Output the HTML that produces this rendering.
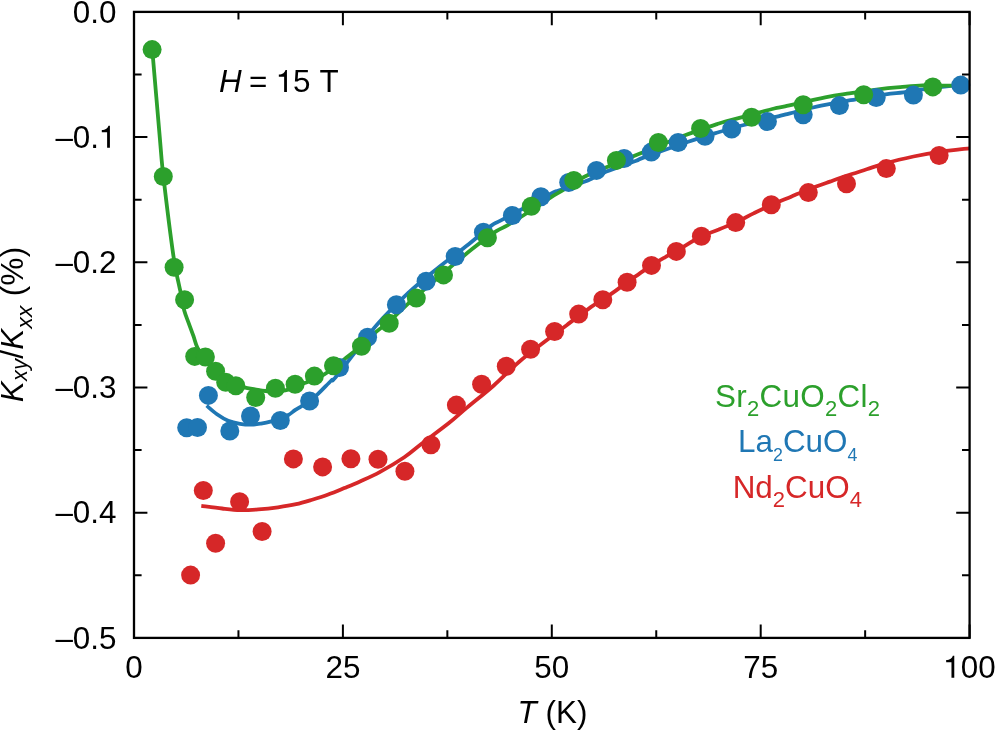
<!DOCTYPE html>
<html><head><meta charset="utf-8"><title>Kxy/Kxx vs T</title>
<style>
html,body{margin:0;padding:0;background:#fff;}
body{width:995px;height:730px;overflow:hidden;}
svg{display:block;will-change:transform;font-family:"Liberation Sans",sans-serif;}
</style></head><body>
<svg width="995" height="730" viewBox="0 0 995 730">
<path d="M201.30 505.80 C204.77 506.25 215.62 507.78 222.10 508.50 C228.58 509.22 234.17 509.95 240.20 510.10 C246.23 510.25 252.00 509.87 258.30 509.40 C264.60 508.93 271.70 508.17 278.00 507.30 C284.30 506.43 290.40 505.47 296.10 504.20 C301.80 502.93 306.85 501.32 312.20 499.70 C317.55 498.08 322.85 496.43 328.20 494.50 C333.55 492.57 339.00 490.27 344.30 488.10 C349.60 485.93 354.10 484.15 360.00 481.50 C365.90 478.85 372.32 476.23 379.70 472.20 C387.08 468.17 397.32 462.03 404.30 457.30 C411.28 452.57 414.17 449.50 421.60 443.80 C429.03 438.10 441.38 429.08 448.90 423.10 C456.42 417.12 459.27 414.13 466.70 407.90 C474.13 401.67 484.80 393.35 493.50 385.70 C502.20 378.05 510.50 369.23 518.90 362.00 C527.30 354.77 535.88 348.48 543.90 342.30 C551.92 336.12 559.18 330.77 567.00 324.90 C574.82 319.03 584.85 311.32 590.80 307.10 C596.75 302.88 598.70 302.22 602.70 299.60 C606.70 296.98 610.73 294.30 614.80 291.40 C618.87 288.50 622.98 285.17 627.10 282.20 C631.22 279.23 635.43 276.42 639.50 273.60 C643.57 270.78 647.40 267.93 651.50 265.30 C655.60 262.67 659.95 260.18 664.10 257.80 C668.25 255.42 670.18 254.58 676.40 251.00 C682.62 247.42 694.43 239.83 701.40 236.30 C708.37 232.77 712.50 232.12 718.20 229.80 C723.90 227.48 729.70 225.13 735.60 222.40 C741.50 219.67 747.65 216.30 753.60 213.40 C759.55 210.50 765.13 207.75 771.30 205.00 C777.47 202.25 784.43 199.48 790.60 196.90 C796.77 194.32 801.73 192.05 808.30 189.50 C814.87 186.95 823.63 183.88 830.00 181.60 C836.37 179.32 840.38 177.85 846.50 175.80 C852.62 173.75 860.08 171.43 866.70 169.30 C873.32 167.17 878.40 165.13 886.20 163.00 C894.00 160.87 904.67 158.37 913.50 156.50 C922.33 154.63 929.85 153.17 939.20 151.80 C948.55 150.43 964.53 148.88 969.60 148.30" fill="none" stroke="#d62728" stroke-width="3.8" stroke-linejoin="round"/>
<path d="M206.60 405.60 C208.33 407.03 213.40 411.68 217.00 414.20 C220.60 416.72 224.37 419.10 228.20 420.70 C232.03 422.30 236.15 423.13 240.00 423.80 C243.85 424.47 247.80 424.73 251.30 424.70 C254.80 424.67 257.65 424.15 261.00 423.60 C264.35 423.05 268.23 422.23 271.40 421.40 C274.57 420.57 277.17 419.67 280.00 418.60 C282.83 417.53 285.90 416.40 288.40 415.00 C290.90 413.60 292.88 411.62 295.00 410.20 C297.12 408.78 298.67 408.10 301.10 406.50 C303.53 404.90 306.87 402.62 309.60 400.60 C312.33 398.58 313.88 397.75 317.50 394.40 C321.12 391.05 328.08 383.58 331.30 380.50 C334.52 377.42 329.23 385.13 336.80 375.90 C344.37 366.67 364.70 339.00 376.70 325.10 C388.70 311.20 398.75 301.90 408.80 292.50 C418.85 283.10 426.97 276.78 437.00 268.70 C447.03 260.62 460.00 251.13 469.00 244.00 C478.00 236.87 485.52 229.92 491.00 225.90 C496.48 221.88 491.92 225.25 501.90 219.90 C511.88 214.55 541.80 198.55 550.90 193.80 C560.00 189.05 551.13 193.35 556.50 191.40 C561.87 189.45 577.33 184.18 583.10 182.10 C588.87 180.02 587.20 180.65 591.10 178.90 C595.00 177.15 598.97 174.63 606.50 171.60 C614.03 168.57 630.27 162.98 636.30 160.70 C642.33 158.42 634.05 161.05 642.70 157.90 C651.35 154.75 675.72 146.03 688.20 141.80 C700.68 137.57 708.33 135.30 717.60 132.50 C726.87 129.70 733.28 127.80 743.80 125.00 C754.32 122.20 773.00 117.65 780.70 115.70 C788.40 113.75 783.25 114.97 790.00 113.30 C796.75 111.63 810.25 108.03 821.20 105.70 C832.15 103.37 844.95 101.20 855.70 99.30 C866.45 97.40 877.75 95.47 885.70 94.30 C893.65 93.13 897.23 93.13 903.40 92.30 C909.57 91.47 914.43 90.40 922.70 89.30 C930.97 88.20 945.18 86.45 953.00 85.70 C960.82 84.95 966.83 84.95 969.60 84.80" fill="none" stroke="#1f77b4" stroke-width="3.8" stroke-linejoin="round"/>
<path d="M152.30 49.80 C153.58 64.83 158.15 118.88 160.00 140.00 C161.85 161.12 161.17 157.20 163.40 176.50 C165.63 195.80 170.85 237.95 173.40 255.80 C175.95 273.65 177.22 276.32 178.70 283.60 C180.18 290.88 181.37 294.97 182.30 299.50 C183.23 304.03 183.23 306.87 184.30 310.80 C185.37 314.73 187.17 318.87 188.70 323.10 C190.23 327.33 192.05 332.12 193.50 336.20 C194.95 340.28 195.48 343.88 197.40 347.60 C199.32 351.32 202.07 354.80 205.00 358.50 C207.93 362.20 211.50 366.38 215.00 369.80 C218.50 373.22 222.50 376.53 226.00 379.00 C229.50 381.47 232.95 383.22 236.00 384.60 C239.05 385.98 241.13 386.52 244.30 387.30 C247.47 388.08 251.52 388.68 255.00 389.30 C258.48 389.92 261.78 390.68 265.20 391.00 C268.62 391.32 272.15 391.30 275.50 391.20 C278.85 391.10 282.13 391.02 285.30 390.40 C288.47 389.78 291.28 388.72 294.50 387.50 C297.72 386.28 301.30 384.48 304.60 383.10 C307.90 381.72 311.02 380.67 314.30 379.20 C317.58 377.73 321.10 376.17 324.30 374.30 C327.50 372.43 329.48 371.05 333.50 368.00 C337.52 364.95 343.77 359.70 348.40 356.00 C353.03 352.30 356.68 349.82 361.30 345.80 C365.92 341.78 371.47 335.90 376.10 331.90 C380.73 327.90 384.78 325.57 389.10 321.80 C393.42 318.03 397.52 313.50 402.00 309.30 C406.48 305.10 409.13 302.62 416.00 296.60 C422.87 290.58 433.95 281.03 443.20 273.20 C452.45 265.37 462.65 256.60 471.50 249.60 C480.35 242.60 490.32 235.23 496.30 231.20 C502.28 227.17 501.62 228.85 507.40 225.40 C513.18 221.95 523.88 215.10 531.00 210.50 C538.12 205.90 544.63 201.27 550.10 197.80 C555.57 194.33 558.15 193.17 563.80 189.70 C569.45 186.23 576.68 180.82 584.00 177.00 C591.32 173.18 598.98 170.45 607.70 166.80 C616.42 163.15 627.58 158.65 636.30 155.10 C645.02 151.55 651.88 148.80 660.00 145.50 C668.12 142.20 675.47 138.87 685.00 135.30 C694.53 131.73 710.35 126.42 717.20 124.10 C724.05 121.78 720.40 122.98 726.10 121.40 C731.80 119.82 743.37 116.75 751.40 114.60 C759.43 112.45 768.70 109.88 774.30 108.50 C779.90 107.12 776.52 108.17 785.00 106.30 C793.48 104.43 814.48 99.47 825.20 97.30 C835.92 95.13 840.15 94.67 849.30 93.30 C858.45 91.93 871.62 90.13 880.10 89.10 C888.58 88.07 893.10 87.73 900.20 87.10 C907.30 86.47 915.23 85.55 922.70 85.30 C930.17 85.05 937.18 85.53 945.00 85.60 C952.82 85.67 965.50 85.68 969.60 85.70" fill="none" stroke="#2ca02c" stroke-width="3.8" stroke-linejoin="round"/>
<circle cx="190.6" cy="575.1" r="9.5" fill="#d62728"/>
<circle cx="203.3" cy="490.5" r="9.5" fill="#d62728"/>
<circle cx="215.6" cy="543.2" r="9.5" fill="#d62728"/>
<circle cx="239.6" cy="501.7" r="9.5" fill="#d62728"/>
<circle cx="262.1" cy="531.5" r="9.5" fill="#d62728"/>
<circle cx="293.4" cy="458.9" r="9.5" fill="#d62728"/>
<circle cx="322.6" cy="466.9" r="9.5" fill="#d62728"/>
<circle cx="350.9" cy="458.8" r="9.5" fill="#d62728"/>
<circle cx="378.0" cy="459.2" r="9.5" fill="#d62728"/>
<circle cx="404.9" cy="471.3" r="9.5" fill="#d62728"/>
<circle cx="430.9" cy="444.7" r="9.5" fill="#d62728"/>
<circle cx="456.4" cy="405.1" r="9.5" fill="#d62728"/>
<circle cx="481.6" cy="384.2" r="9.5" fill="#d62728"/>
<circle cx="506.3" cy="366.3" r="9.5" fill="#d62728"/>
<circle cx="530.6" cy="349.2" r="9.5" fill="#d62728"/>
<circle cx="554.6" cy="331.5" r="9.5" fill="#d62728"/>
<circle cx="578.7" cy="314.1" r="9.5" fill="#d62728"/>
<circle cx="602.8" cy="299.7" r="9.5" fill="#d62728"/>
<circle cx="627.1" cy="282.3" r="9.5" fill="#d62728"/>
<circle cx="651.5" cy="265.4" r="9.5" fill="#d62728"/>
<circle cx="676.3" cy="251.4" r="9.5" fill="#d62728"/>
<circle cx="701.4" cy="236.3" r="9.5" fill="#d62728"/>
<circle cx="735.7" cy="222.6" r="9.5" fill="#d62728"/>
<circle cx="771.3" cy="204.7" r="9.5" fill="#d62728"/>
<circle cx="808.3" cy="192.6" r="9.5" fill="#d62728"/>
<circle cx="846.5" cy="183.7" r="9.5" fill="#d62728"/>
<circle cx="886.3" cy="168.6" r="9.5" fill="#d62728"/>
<circle cx="939.1" cy="155.5" r="9.5" fill="#d62728"/>
<circle cx="186.7" cy="427.7" r="9.5" fill="#1f77b4"/>
<circle cx="197.5" cy="427.5" r="9.5" fill="#1f77b4"/>
<circle cx="208.4" cy="395.4" r="9.5" fill="#1f77b4"/>
<circle cx="229.8" cy="431.0" r="9.5" fill="#1f77b4"/>
<circle cx="250.5" cy="416.0" r="9.5" fill="#1f77b4"/>
<circle cx="280.3" cy="420.5" r="9.5" fill="#1f77b4"/>
<circle cx="309.6" cy="401.0" r="9.5" fill="#1f77b4"/>
<circle cx="339.5" cy="367.5" r="9.5" fill="#1f77b4"/>
<circle cx="367.6" cy="337.2" r="9.5" fill="#1f77b4"/>
<circle cx="396.4" cy="304.7" r="9.5" fill="#1f77b4"/>
<circle cx="426.1" cy="281.3" r="9.5" fill="#1f77b4"/>
<circle cx="455.2" cy="256.5" r="9.5" fill="#1f77b4"/>
<circle cx="483.4" cy="232.3" r="9.5" fill="#1f77b4"/>
<circle cx="512.4" cy="215.5" r="9.5" fill="#1f77b4"/>
<circle cx="540.9" cy="196.7" r="9.5" fill="#1f77b4"/>
<circle cx="568.7" cy="182.5" r="9.5" fill="#1f77b4"/>
<circle cx="596.5" cy="170.4" r="9.5" fill="#1f77b4"/>
<circle cx="624.1" cy="158.5" r="9.5" fill="#1f77b4"/>
<circle cx="651.3" cy="152.1" r="9.5" fill="#1f77b4"/>
<circle cx="678.1" cy="142.5" r="9.5" fill="#1f77b4"/>
<circle cx="705.0" cy="136.2" r="9.5" fill="#1f77b4"/>
<circle cx="731.7" cy="129.1" r="9.5" fill="#1f77b4"/>
<circle cx="767.4" cy="121.6" r="9.5" fill="#1f77b4"/>
<circle cx="803.2" cy="114.8" r="9.5" fill="#1f77b4"/>
<circle cx="839.4" cy="105.6" r="9.5" fill="#1f77b4"/>
<circle cx="876.2" cy="97.5" r="9.5" fill="#1f77b4"/>
<circle cx="913.4" cy="95.1" r="9.5" fill="#1f77b4"/>
<circle cx="960.8" cy="85.1" r="9.5" fill="#1f77b4"/>
<circle cx="152.1" cy="49.6" r="9.5" fill="#2ca02c"/>
<circle cx="163.3" cy="176.5" r="9.5" fill="#2ca02c"/>
<circle cx="174.1" cy="267.2" r="9.5" fill="#2ca02c"/>
<circle cx="184.6" cy="299.8" r="9.5" fill="#2ca02c"/>
<circle cx="194.7" cy="356.4" r="9.5" fill="#2ca02c"/>
<circle cx="205.4" cy="357.0" r="9.5" fill="#2ca02c"/>
<circle cx="215.6" cy="371.2" r="9.5" fill="#2ca02c"/>
<circle cx="225.7" cy="382.3" r="9.5" fill="#2ca02c"/>
<circle cx="235.8" cy="385.8" r="9.5" fill="#2ca02c"/>
<circle cx="255.7" cy="397.5" r="9.5" fill="#2ca02c"/>
<circle cx="275.4" cy="388.2" r="9.5" fill="#2ca02c"/>
<circle cx="295.1" cy="384.2" r="9.5" fill="#2ca02c"/>
<circle cx="314.4" cy="376.1" r="9.5" fill="#2ca02c"/>
<circle cx="333.5" cy="365.7" r="9.5" fill="#2ca02c"/>
<circle cx="361.5" cy="346.2" r="9.5" fill="#2ca02c"/>
<circle cx="389.2" cy="323.2" r="9.5" fill="#2ca02c"/>
<circle cx="416.3" cy="298.1" r="9.5" fill="#2ca02c"/>
<circle cx="443.5" cy="274.9" r="9.5" fill="#2ca02c"/>
<circle cx="487.4" cy="237.7" r="9.5" fill="#2ca02c"/>
<circle cx="531.3" cy="206.3" r="9.5" fill="#2ca02c"/>
<circle cx="573.8" cy="180.4" r="9.5" fill="#2ca02c"/>
<circle cx="616.4" cy="160.4" r="9.5" fill="#2ca02c"/>
<circle cx="658.4" cy="142.5" r="9.5" fill="#2ca02c"/>
<circle cx="700.6" cy="128.5" r="9.5" fill="#2ca02c"/>
<circle cx="751.6" cy="117.2" r="9.5" fill="#2ca02c"/>
<circle cx="803.2" cy="104.8" r="9.5" fill="#2ca02c"/>
<circle cx="863.7" cy="94.7" r="9.5" fill="#2ca02c"/>
<circle cx="932.8" cy="86.9" r="9.5" fill="#2ca02c"/>
<path d="M134.00 637.90V624.50 M134.00 11.90V25.30 M238.45 637.90V630.30 M238.45 11.90V19.50 M342.90 637.90V624.50 M342.90 11.90V25.30 M447.35 637.90V630.30 M447.35 11.90V19.50 M551.80 637.90V624.50 M551.80 11.90V25.30 M656.25 637.90V630.30 M656.25 11.90V19.50 M760.70 637.90V624.50 M760.70 11.90V25.30 M865.15 637.90V630.30 M865.15 11.90V19.50 M969.60 637.90V624.50 M969.60 11.90V25.30 M134.00 11.90H147.40 M969.60 11.90H956.20 M134.00 74.50H141.60 M969.60 74.50H962.00 M134.00 137.10H147.40 M969.60 137.10H956.20 M134.00 199.70H141.60 M969.60 199.70H962.00 M134.00 262.30H147.40 M969.60 262.30H956.20 M134.00 324.90H141.60 M969.60 324.90H962.00 M134.00 387.50H147.40 M969.60 387.50H956.20 M134.00 450.10H141.60 M969.60 450.10H962.00 M134.00 512.70H147.40 M969.60 512.70H956.20 M134.00 575.30H141.60 M969.60 575.30H962.00 M134.00 637.90H147.40 M969.60 637.90H956.20" stroke="#000" stroke-width="2.0" fill="none"/>
<rect x="134.00" y="11.90" width="835.60" height="626.00" fill="none" stroke="#000" stroke-width="2.3"/>
<g font-size="31.4"><text x="72.85" y="22.50">0.0</text>
<text x="55.40" y="147.70">–0.</text><path transform="translate(99.04,147.70) scale(0.03140,-0.03140)" d="M257,0 L346,0 L346,702 L302,702 C288,662 266,628 232,603 C194,578 142,566 88,563 L88,492 L257,492 Z" fill="#000"/>
<text x="55.40" y="272.90">–0.2</text>
<text x="55.40" y="398.10">–0.3</text>
<text x="55.40" y="523.30">–0.4</text>
<text x="55.40" y="648.50">–0.5</text></g>
<g font-size="31.4"><text x="125.27" y="677.70">0</text>
<text x="325.44" y="677.70">25</text>
<text x="534.34" y="677.70">50</text>
<text x="743.24" y="677.70">75</text>
<path transform="translate(943.41,677.70) scale(0.03140,-0.03140)" d="M257,0 L346,0 L346,702 L302,702 C288,662 266,628 232,603 C194,578 142,566 88,563 L88,492 L257,492 Z" fill="#000"/><text x="960.87" y="677.70">00</text></g>
<text x="552.5" y="722.7" font-size="31.4" text-anchor="middle"><tspan font-style="italic">T</tspan> (K)</text>
<text transform="translate(22.7,324.4) rotate(-90)" font-size="31.4" text-anchor="middle" letter-spacing="0.3"><tspan font-style="italic">K</tspan><tspan font-style="italic" font-size="21.6" dy="4.5">xy</tspan><tspan dy="-4.5">/</tspan><tspan font-style="italic">K</tspan><tspan font-style="italic" font-size="22.5" dy="9.4">xx</tspan><tspan dy="-9.4"> (%)</tspan></text>
<g font-size="31.4"><text x="219.00" y="92.1" font-style="italic">H</text><text x="249.00" y="92.1">=</text><path transform="translate(276.07,92.10) scale(0.03140,-0.03140)" d="M257,0 L346,0 L346,702 L302,702 C288,662 266,628 232,603 C194,578 142,566 88,563 L88,492 L257,492 Z" fill="#000"/><text x="292.93" y="92.1">5</text><text x="319.61" y="92.1">T</text></g>
<text x="715.0" y="406.8" font-size="31.4" fill="#2ca02c" letter-spacing="0.3">Sr<tspan font-size="22.0" dy="8.8">2</tspan><tspan dy="-8.8">​</tspan>CuO<tspan font-size="22.0" dy="8.8">2</tspan><tspan dy="-8.8">​</tspan>Cl<tspan font-size="22.0" dy="8.8">2</tspan><tspan dy="-8.8">​</tspan></text>
<text x="738.1" y="452.3" font-size="31.4" fill="#1f77b4">La<tspan font-size="17.8" dy="8.7">2</tspan><tspan dy="-8.7">​</tspan>CuO<tspan font-size="17.8" dy="8.7">4</tspan><tspan dy="-8.7">​</tspan></text>
<text x="732.7" y="497.7" font-size="31.4" fill="#d62728">Nd<tspan font-size="22.0" dy="9.2">2</tspan><tspan dy="-9.2">​</tspan>CuO<tspan font-size="22.0" dy="9.2">4</tspan><tspan dy="-9.2">​</tspan></text>
</svg>
</body></html>
